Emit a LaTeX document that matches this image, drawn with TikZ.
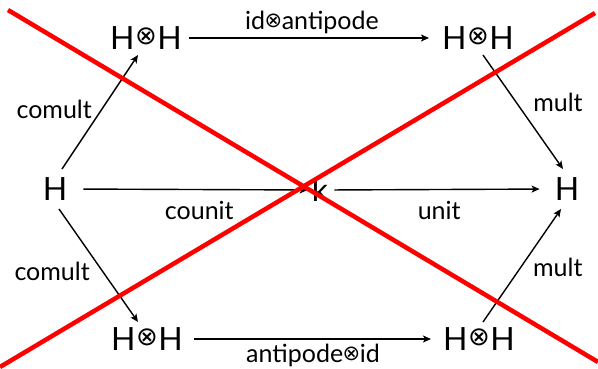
\documentclass[tikz,border=0pt]{standalone}
\usepackage{fontspec}
\setmainfont{Lato}
\newfontfamily\opfont{DejaVu Sans}
\usetikzlibrary{arrows.meta,positioning,calc}
\newcommand{\tens}{\kern0.5pt\raisebox{4.5pt}{\opfont\fontsize{26}{26}\selectfont ⊗}\kern0.5pt}
\newcommand{\tensl}{\kern-0.5pt\raisebox{2pt}{\opfont\fontsize{21}{21}\selectfont ⊗}\kern-0.5pt}
\tikzset{
  hopfobj/.style={inner sep=0pt, font=\fontsize{32}{36}\selectfont},
  hopfmap/.style={-{Stealth[length=8pt,width=7pt,inset=2pt]}, line width=1.4pt},
  hopflabel/.style={inner sep=1pt, font=\fontsize{25}{28}\selectfont},
  hopfcross/.style={draw=red, line width=4.5pt}
}

\begin{document}
\begin{tikzpicture}[x=1pt,y=1pt]
  \useasboundingbox (0,0) rectangle (598,369);
  % objects
  \node[hopfobj] (hl) at (55,180) {H};
  \node[hopfobj] (tl) at (146,331) {H\tens H};
  \node[hopfobj] (tr) at (478,331) {H\tens H};
  \node[hopfobj] (k) at (320,179) {k};
  \node[hopfobj] (hr) at (567,180) {H};
  \node[hopfobj] (bl) at (147,30) {H\tens H};
  \node[hopfobj] (br) at (479,30) {H\tens H};
  % upper path
  \draw[hopfmap] ([shift={(7,20)}]hl.center) -- node[hopflabel,pos=.52,left=8pt] {comult} ([shift={(-8,-17)}]tl.center);
  \draw[hopfmap,shorten <=7pt,shorten >=13pt] (tl.east) -- node[hopflabel,above=3pt] {id\tensl antipode} (tr.west);
  \draw[hopfmap] ([shift={(5,-17)}]tr.center) -- node[hopflabel,pos=.42,right=15pt] {mult} ([shift={(-4,20)}]hr.center);
  % middle path
  \draw[hopfmap,shorten <=16pt,shorten >=4pt] (hl.east) -- node[hopflabel,pos=.54,below=10pt] {counit} (k.west);
  \draw[hopfmap,shorten <=6pt,shorten >=15pt] (k.east) -- node[hopflabel,pos=.49,below=10pt] {unit} (hr.west);
  % lower path
  \draw[hopfmap] ([shift={(4,-20)}]hl.center) -- node[hopflabel,pos=.55,left=11pt] {comult} ([shift={(-9,17)}]bl.center);
  \draw[hopfmap,shorten <=11pt,shorten >=12pt] (bl.east) -- node[hopflabel,below=3pt] {antipode\tensl id} (br.west);
  \draw[hopfmap] ([shift={(4,17)}]br.center) -- node[hopflabel,pos=.48,right=11pt] {mult} ([shift={(-6,-20)}]hr.center);
  % the cross
  \draw[hopfcross] (8,359) -- (598,7);
  \draw[hopfcross] (0,2) -- (595,356);
\end{tikzpicture}
\end{document}
